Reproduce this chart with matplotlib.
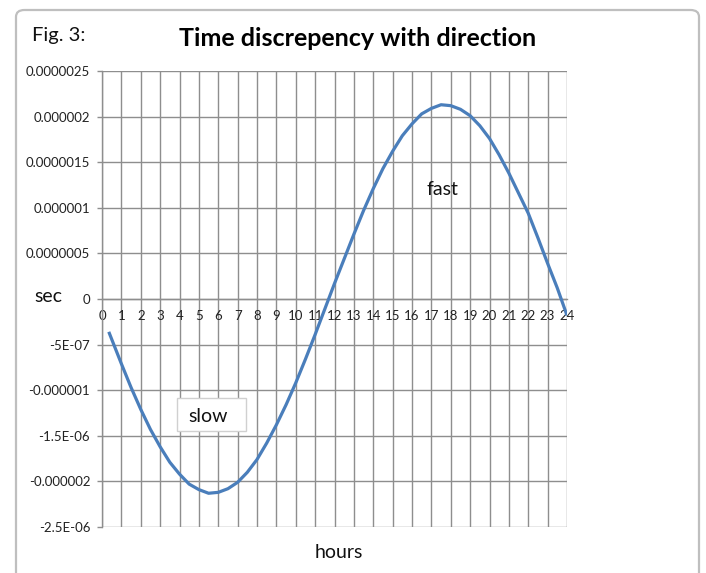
import matplotlib
matplotlib.use("Agg")
import matplotlib.pyplot as plt
from matplotlib.patches import FancyBboxPatch
import numpy as np

plt.rcParams['font.family'] = ['Lato', 'DejaVu Sans']

# Data (hours vs. time discrepancy in seconds)
hours = [0.35, 1.0, 1.5, 2.0, 2.5, 3.0, 3.5, 4.0, 4.5, 5.0, 5.5, 6.0, 6.5,
         7.0, 7.5, 8.0, 8.5, 9.0, 9.5, 10.0, 10.5, 11.0, 11.5, 12.0, 12.5,
         13.0, 13.5, 14.0, 14.5, 15.0, 15.5, 16.0, 16.5, 17.0, 17.5, 18.0,
         18.5, 19.0, 19.5, 20.0, 20.5, 21.0, 21.5, 22.0, 22.5, 23.0, 23.5, 24.0]
discrepancy_us = [-0.36, -0.71, -0.97, -1.21, -1.43, -1.62, -1.79, -1.92, -2.03,
                  -2.09, -2.13, -2.12, -2.08, -2.01, -1.90, -1.76, -1.58, -1.38,
                  -1.16, -0.92, -0.66, -0.39, -0.11, 0.17, 0.44, 0.71, 0.97,
                  1.21, 1.43, 1.62, 1.79, 1.92, 2.03, 2.09, 2.13, 2.12, 2.08,
                  2.01, 1.90, 1.76, 1.58, 1.38, 1.16, 0.94, 0.67, 0.39, 0.12, -0.18]
discrepancy = [v * 1e-6 for v in discrepancy_us]

x_ticks = list(range(0, 25))
y_ticks = [-2.5e-6, -2e-6, -1.5e-6, -1e-6, -0.5e-6, 0, 0.5e-6, 1e-6, 1.5e-6, 2e-6, 2.5e-6]
y_tick_labels = ["-2.5E-06", "-0.000002", "-1.5E-06", "-0.000001", "-5E-07", "0",
                 "0.0000005", "0.000001", "0.0000015", "0.000002", "0.0000025"]

W, H = 706, 573
fig = plt.figure(figsize=(W / 100, H / 100), dpi=100)

# chart-area frame
frame = FancyBboxPatch((16 / W, -0.05), (699 - 16) / W, (573 - 10) / H + 0.05,
                       boxstyle="round,pad=0,rounding_size=0.012",
                       transform=fig.transFigure, facecolor='white',
                       edgecolor='#bfbfbf', linewidth=1.6, zorder=-10)
fig.patches.append(frame)

left, right, top, bottom = 102, 567, 71, 527
ax = fig.add_axes([left / W, 1 - bottom / H, (right - left) / W, (bottom - top) / H])
ax.set_facecolor('none')

grid_c = '#8e8e8e'
ax.plot(hours, discrepancy, color='#4a7ebb', linewidth=2.3, zorder=3,
        solid_joinstyle='round', solid_capstyle='butt')

ax.set_xlim(0, 24)
ax.set_ylim(-2.5e-6, 2.5e-6)
ax.set_xticks(x_ticks)
ax.set_xticklabels([str(t) for t in x_ticks])
ax.set_yticks(y_ticks)
ax.set_yticklabels(y_tick_labels)
ax.grid(True, color=grid_c, linewidth=1.0, zorder=1)
ax.set_axisbelow(True)

for s in ['top', 'right']:
    ax.spines[s].set_visible(False)
ax.spines['left'].set_color(grid_c)
ax.spines['left'].set_linewidth(1.0)
ax.spines['bottom'].set_position(('data', 0))
ax.spines['bottom'].set_color(grid_c)
ax.spines['bottom'].set_linewidth(1.0)

ax.tick_params(axis='y', direction='out', length=3.5, width=1.0, color=grid_c,
               pad=5, labelsize=9.5, labelcolor='#222222')
ax.tick_params(axis='x', direction='out', length=0, width=1.0, color=grid_c,
               pad=8, labelsize=9.5, labelcolor='#222222')

# texts
fig.text(32 / W, 1 - 36 / H, "Fig. 3:", fontsize=14.5, ha='left', va='center', color='#111111')
fig.text(358 / W, 1 - 38 / H, "Time discrepency with direction", fontsize=18,
         fontweight='bold', ha='center', va='center', color='black')
fig.text(48 / W, 1 - 297 / H, "sec", fontsize=14, ha='center', va='center', color='#111111')
fig.text(339 / W, 1 - 552 / H, "hours", fontsize=14, ha='center', va='center', color='#111111')
fig.text(442 / W, 1 - 190 / H, "fast", fontsize=14, ha='center', va='center', color='#111111')

slow_box = FancyBboxPatch((177 / W, 1 - 431 / H), (246 - 177) / W, (431 - 398) / H,
                          boxstyle="square,pad=0", transform=fig.transFigure,
                          facecolor='white', edgecolor='#d0d0d0', linewidth=1.0, zorder=5)
fig.patches.append(slow_box)
fig.text(208 / W, 1 - 416 / H, "slow", fontsize=14, ha='center', va='center',
         color='#111111', zorder=6)

fig.savefig("out.png", dpi=100)
